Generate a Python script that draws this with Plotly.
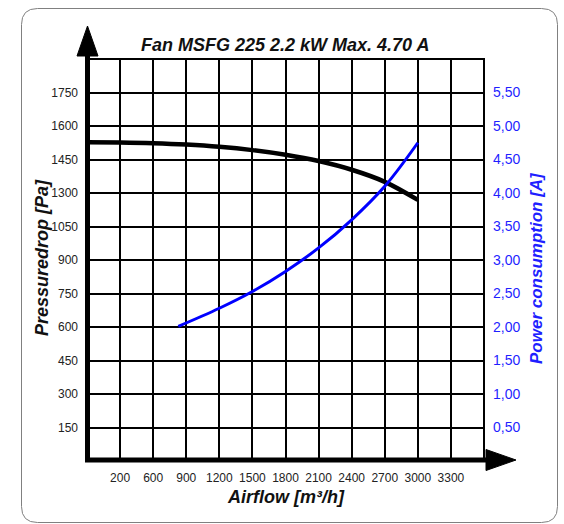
import plotly.graph_objects as go

# ---- data ----
airflow_p = [0, 300, 600, 900, 1200, 1500, 1800, 2100, 2400, 2700, 3000]
pressure = [1527, 1526, 1523, 1517, 1507, 1492, 1471, 1443, 1404, 1350, 1269]

airflow_a = [828, 1200, 1500, 1800, 2100, 2400, 2700, 3000]
current = [2.01, 2.28, 2.53, 2.83, 3.18, 3.60, 4.10, 4.75]

x_tickvals = [300, 600, 900, 1200, 1500, 1800, 2100, 2400, 2700, 3000, 3300]
x_ticktext = ["200", "600", "900", "1200", "1500", "1800", "2100", "2400", "2700", "3000", "3300"]
y_tickvals = [250, 400, 550, 700, 850, 1000, 1150, 1300, 1450, 1600, 1750]
y_ticktext = ["150", "300", "450", "600", "750", "900", "1050", "1300", "1450", "1600", "1750"]
y2_tickvals = [0.5, 1.0, 1.5, 2.0, 2.5, 3.0, 3.5, 4.0, 4.5, 5.0, 5.5]
y2_ticktext = ["0,50", "1,00", "1,50", "2,00", "2,50", "3,00", "3,50", "4,00", "4,50", "5,00", "5,50"]

W, H = 564, 524
PL, PR, PT, PB = 87, 484, 59, 461
FONT = "Liberation Sans"
BLUE = "#1f1fff"
LINE_BLUE = "#0000ff"


def xp(px):
    return (px - PL) / (PR - PL)


def yp(py):
    return (PB - py) / (PB - PT)


fig = go.Figure()
fig.add_trace(go.Scatter(x=airflow_p, y=pressure, mode="lines",
                         line=dict(color="black", width=4.5, shape="spline", smoothing=1.0),
                         yaxis="y", showlegend=False, hoverinfo="skip"))
fig.add_trace(go.Scatter(x=airflow_a, y=current, mode="lines",
                         line=dict(color=LINE_BLUE, width=3, shape="spline", smoothing=1.0),
                         yaxis="y2", showlegend=False, hoverinfo="skip"))

shapes = []
# plot frame (top/right thin)
shapes.append(dict(type="rect", xref="paper", yref="paper", x0=0, x1=1, y0=0, y1=1,
                   line=dict(color="black", width=2), layer="below"))
# up arrow
shapes.append(dict(type="line", xref="paper", yref="paper", x0=xp(87.5), x1=xp(87.5),
                   y0=yp(461), y1=yp(54), line=dict(color="black", width=5)))
shapes.append(dict(type="path", xref="paper", yref="paper",
                   path=f"M {xp(77)} {yp(56)} L {xp(98)} {yp(56)} L {xp(87.5)} {yp(26)} Z",
                   fillcolor="black", line=dict(color="black", width=1)))
# right arrow
shapes.append(dict(type="line", xref="paper", yref="paper", x0=xp(85), x1=xp(488),
                   y0=yp(460), y1=yp(460), line=dict(color="black", width=5)))
shapes.append(dict(type="path", xref="paper", yref="paper",
                   path=f"M {xp(486)} {yp(449.5)} L {xp(486)} {yp(470.5)} L {xp(516)} {yp(460)} Z",
                   fillcolor="black", line=dict(color="black", width=1)))
# rounded outer border
bx0, bx1, by0, by1, r = 21.5, 557.5, 8.5, 522.5, 16
path = (f"M {xp(bx0 + r)} {yp(by0)} L {xp(bx1 - r)} {yp(by0)} "
        f"Q {xp(bx1)} {yp(by0)} {xp(bx1)} {yp(by0 + r)} "
        f"L {xp(bx1)} {yp(by1 - r)} Q {xp(bx1)} {yp(by1)} {xp(bx1 - r)} {yp(by1)} "
        f"L {xp(bx0 + r)} {yp(by1)} Q {xp(bx0)} {yp(by1)} {xp(bx0)} {yp(by1 - r)} "
        f"L {xp(bx0)} {yp(by0 + r)} Q {xp(bx0)} {yp(by0)} {xp(bx0 + r)} {yp(by0)} Z")
shapes.append(dict(type="path", xref="paper", yref="paper", path=path,
                   line=dict(color="#808080", width=1)))

annotations = [
    dict(text="<b><i>Fan MSFG 225 2.2 kW Max. 4.70 A</i></b>", xref="paper", yref="paper",
         x=xp(285), y=yp(45), showarrow=False, font=dict(family=FONT, size=18, color="#111"),
         xanchor="center", yanchor="middle"),
    dict(text="<b><i>Airflow [m³/h]</i></b>", xref="paper", yref="paper",
         x=xp(286), y=yp(497), showarrow=False, font=dict(family=FONT, size=18, color="#111"),
         xanchor="center", yanchor="middle"),
    dict(text="<b><i>Pressuredrop [Pa]</i></b>", xref="paper", yref="paper",
         x=xp(42), y=yp(258), showarrow=False, textangle=-90,
         font=dict(family=FONT, size=18, color="#111"), xanchor="center", yanchor="middle"),
    dict(text="<b><i>Power consumption [A]</i></b>", xref="paper", yref="paper",
         x=xp(536), y=yp(268), showarrow=False, textangle=-90,
         font=dict(family=FONT, size=17, color=BLUE), xanchor="center", yanchor="middle"),
]

fig.update_layout(
    width=W, height=H,
    margin=dict(l=PL, r=W - PR, t=PT, b=H - PB, pad=0),
    paper_bgcolor="white", plot_bgcolor="white",
    shapes=shapes, annotations=annotations,
    xaxis=dict(range=[0, 3600], tickvals=x_tickvals, ticktext=x_ticktext,
               showgrid=True, gridcolor="black", gridwidth=2, zeroline=False,
               showline=False, ticks="", ticklabelstandoff=8,
               tickfont=dict(family=FONT, size=12, color="#222"), fixedrange=True),
    yaxis=dict(range=[100, 1900], tickvals=y_tickvals, ticktext=y_ticktext,
               showgrid=True, gridcolor="black", gridwidth=2, zeroline=False,
               showline=False, ticks="", ticklabelstandoff=8,
               tickfont=dict(family=FONT, size=12, color="#222"), fixedrange=True),
    yaxis2=dict(range=[0, 6], tickvals=y2_tickvals, ticktext=y2_ticktext,
                overlaying="y", side="right", showgrid=False, zeroline=False,
                showline=False, ticks="", ticklabelstandoff=8,
                tickfont=dict(family=FONT, size=14, color=BLUE), fixedrange=True),
)

fig.write_html("out.html")
